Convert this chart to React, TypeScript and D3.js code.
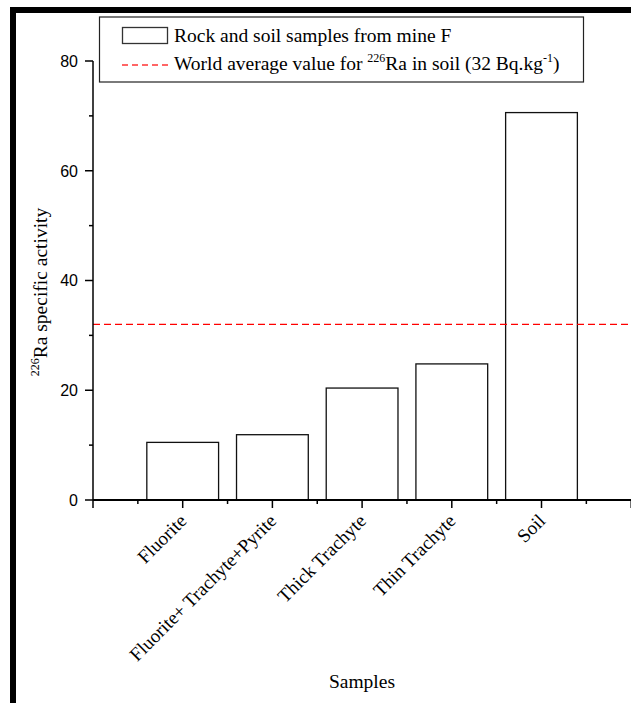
import React from "react";
import * as d3 from "d3";

const categories = ["Fluorite", "Fluorite+ Trachyte+Pyrite", "Thick Trachyte", "Thin Trachyte", "Soil"];
const values = [10.5, 11.9, 20.4, 24.8, 70.6];
const worldAverage = 32;
const yTicks = [0, 20, 40, 60, 80];
const yMinorTicks = [10, 30, 50, 70];

const W = 631;
const H = 703;
const serif = "'Liberation Serif', 'Times New Roman', serif";
const sans = "'Liberation Sans', Arial, sans-serif";

export default function App() {
  const x0 = 93;
  const yBottom = 500;
  const yTop = 61;
  const step = 89.7;
  const x = d3.scaleLinear().domain([0, 6]).range([x0, x0 + step * 6]);
  const y = d3.scaleLinear().domain([0, 80]).range([yBottom, yTop]);
  const barW = step * 0.8;
  const majorX = d3.range(0, 7);
  const minorX = d3.range(0.5, 6.5, 1);

  return (
    <svg width={W} height={H} style={{ position: "absolute", left: 0, top: 0, background: "#fff" }}>
      {/* outer frame */}
      <rect x={13} y={10} width={W + 20} height={H - 6} fill="none" stroke="#000" strokeWidth={6} />

      {/* bars */}
      {values.map((v, i) => (
        <rect
          key={i}
          x={x(i + 1) - barW / 2}
          y={y(v)}
          width={barW}
          height={y(0) - y(v)}
          fill="#fff"
          stroke="#111"
          strokeWidth={1.3}
        />
      ))}

      {/* reference line */}
      <line
        x1={x0}
        x2={W}
        y1={y(worldAverage)}
        y2={y(worldAverage)}
        stroke="#ff0000"
        strokeWidth={1.3}
        strokeDasharray="7,4"
      />

      {/* y axis */}
      <line x1={x0} x2={x0} y1={yTop} y2={yBottom} stroke="#000" strokeWidth={1.5} />
      {yTicks.map((t) => (
        <g key={t}>
          <line x1={x0 - 8} x2={x0} y1={y(t)} y2={y(t)} stroke="#000" strokeWidth={1.5} />
          <text x={x0 - 15} y={y(t)} dy="0.36em" textAnchor="end" fontFamily={sans} fontSize={16}>
            {t}
          </text>
        </g>
      ))}
      {yMinorTicks.map((t) => (
        <line key={t} x1={x0 - 4} x2={x0} y1={y(t)} y2={y(t)} stroke="#000" strokeWidth={1.5} />
      ))}

      {/* x axis */}
      <line x1={x0} x2={W + 5} y1={yBottom} y2={yBottom} stroke="#000" strokeWidth={1.8} />
      {majorX.map((t) => (
        <line key={t} x1={x(t)} x2={x(t)} y1={yBottom} y2={yBottom + 8} stroke="#000" strokeWidth={1.5} />
      ))}
      {minorX.map((t) => (
        <line key={t} x1={x(t)} x2={x(t)} y1={yBottom} y2={yBottom + 4} stroke="#000" strokeWidth={1.5} />
      ))}
      {categories.map((c, i) => (
        <text
          key={c}
          transform={`translate(${x(i + 1) + 5},${yBottom + 22}) rotate(-45)`}
          textAnchor="end"
          fontFamily={serif}
          fontSize={19}
        >
          {c}
        </text>
      ))}

      {/* axis titles */}
      <text x={362} y={688} textAnchor="middle" fontFamily={serif} fontSize={19.5}>
        Samples
      </text>
      <text
        transform={`translate(47,292) rotate(-90)`}
        textAnchor="middle"
        fontFamily={serif}
        fontSize={19.5}
      >
        <tspan fontSize={12} dy={-8}>226</tspan>
        <tspan dy={8}>Ra specific activity</tspan>
      </text>

      {/* legend */}
      <rect x={99.5} y={17} width={484} height={65} fill="#fff" stroke="#222" strokeWidth={1.2} />
      <rect x={122.5} y={27.5} width={45} height={16} fill="#fff" stroke="#333" strokeWidth={1.3} />
      <text x={174} y={42} fontFamily={serif} fontSize={19.5}>
        Rock and soil samples from mine F
      </text>
      <line x1={122} x2={168} y1={65} y2={65} stroke="#ff3333" strokeWidth={1.3} strokeDasharray="6,4" />
      <text x={174} y={70} fontFamily={serif} fontSize={19.5}>
        World average value for <tspan fontSize={12} dy={-8}>226</tspan>
        <tspan dy={8}>Ra in soil (32 Bq.kg</tspan>
        <tspan fontSize={12} dy={-8}>-1</tspan>
        <tspan dy={8}>)</tspan>
      </text>
    </svg>
  );
}
